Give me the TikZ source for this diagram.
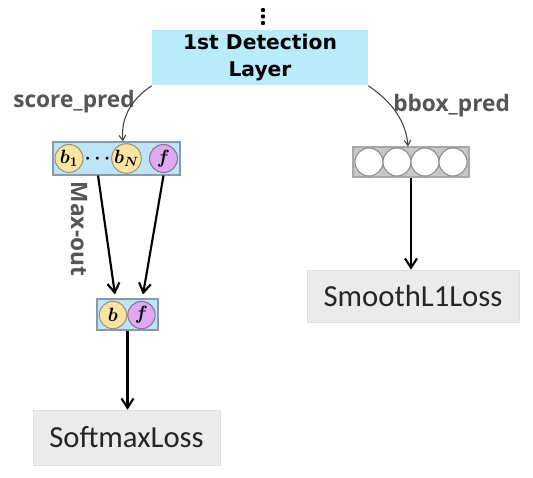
\documentclass[tikz,border=0pt]{standalone}
\usepackage{fontspec}
\usepackage{bm}
\usetikzlibrary{arrows.meta,calc}
\newfontfamily\dejab{DejaVu Sans}
\newfontfamily\carl{Carlito}
\newfontfamily\opens{Open Sans}
\definecolor{detfill}{HTML}{B9EBFB}
\definecolor{scorefill}{HTML}{BEE5F5}
\definecolor{scoreline}{HTML}{8A9AA8}
\definecolor{yel}{HTML}{FBE3A2}
\definecolor{yelline}{HTML}{9B9580}
\definecolor{pur}{HTML}{DFA9F2}
\definecolor{purline}{HTML}{8B7396}
\definecolor{bbfill}{HTML}{C7C7C7}
\definecolor{bbline}{HTML}{A8A8A8}
\definecolor{circline}{HTML}{8C8C8C}
\definecolor{lossfill}{HTML}{EBEBEB}
\definecolor{lossline}{HTML}{E0E0E0}
\definecolor{labgray}{HTML}{555555}
\definecolor{curvecol}{HTML}{404040}
\begin{document}
\begin{tikzpicture}[x=0.75pt,y=-0.75pt,
  lossbox/.style={draw=lossline,fill=lossfill,inner sep=0pt,font=\carl\fontsize{23}{24}\selectfont,text=black!85},
  lab/.style={font=\opens\bfseries\fontsize{17}{18}\selectfont,text=labgray,inner sep=0pt},
  ycirc/.style={circle,draw=yelline,fill=yel,line width=0.8pt,minimum size=21pt,inner sep=0pt,font=\fontsize{14}{14}\selectfont},
  pcirc/.style={circle,draw=purline,fill=pur,line width=0.8pt,minimum size=21pt,inner sep=0pt,font=\fontsize{14}{14}\selectfont},
  wcirc/.style={circle,draw=circline,fill=white,line width=0.8pt,minimum size=21pt,inner sep=0pt},
  thinarrow/.style={draw=curvecol,line width=0.8pt,-{Straight Barb[length=4pt,width=5pt]}},
  thickarrow/.style={draw=black,line width=1.6pt,-{Straight Barb[length=7pt,width=9pt,line width=1.6pt]}}
]
\useasboundingbox (0,0) rectangle (533,478);

% dots above
\fill (263,10) circle (2.2);
\fill (263,16.5) circle (2.2);
\fill (263,23) circle (2.2);

% detection layer
\node[fill=detfill,minimum width=162pt,minimum height=41.5pt,inner sep=0pt,
      font=\dejab\bfseries\fontsize{15.2}{20}\selectfont,align=center] (det) at (260,57.8) {1st Detection\\Layer};

% labels
\node[lab,anchor=base west] (scorelab) at (13,108) {score\_pred};
\node[lab,anchor=base west] (bboxlab) at (393,112) {bbox\_pred};

% score box
\node[draw=scoreline,fill=scorefill,line width=0.8pt,minimum width=95.25pt,minimum height=24.75pt,inner sep=0pt] (score) at (116.5,158.5) {};
\node[ycirc] (b1) at (69,158.5) {$\bm{b_1}$};
\node[inner sep=0pt,font=\fontsize{14}{14}\selectfont] (cdots) at (97.5,158.5) {$\bm{\cdots}$};
\node[ycirc] (bN) at (126.5,158.5) {$\bm{b_N}$};
\node[pcirc] (f1) at (163.5,158.5) {$\bm{f}$};

% bbox box
\node[draw=bbline,fill=bbfill,line width=0.8pt,minimum width=87pt,minimum height=22.5pt,inner sep=0pt] (bbox) at (411,162) {};
\node[wcirc] (c1) at (369,162) {};
\node[wcirc] (c2) at (397,162) {};
\node[wcirc] (c3) at (425,162) {};
\node[wcirc] (c4) at (453,162) {};

% max-out label
\node[lab,rotate=-90] (maxout) at (79,229) {Max-out};

% bf box
\node[draw=scoreline,fill=scorefill,line width=0.8pt,minimum width=45.75pt,minimum height=23.25pt,inner sep=0pt] (bf) at (127.5,314.5) {};
\node[ycirc,minimum size=20.5pt] (b2) at (113,315) {$\bm{b}$};
\node[pcirc,minimum size=20.5pt] (f2) at (141.5,315) {$\bm{f}$};

% loss boxes
\node[lossbox,minimum width=140.5pt,minimum height=41.25pt] (soft) at (126.5,437.5) {SoftmaxLoss};
\node[lossbox,minimum width=159pt,minimum height=39.5pt] (smooth) at (413,296.3) {SmoothL1Loss};

% connectors
\draw[thinarrow] (det.south west) .. controls +(-24,16) and +(-2,-20) .. ($(score.north)+(6.5,0)$);
\draw[thinarrow] (det.south east) .. controls +(24,16) and +(-2,-25) .. ($(bbox.north)+(-3,0)$);
\draw[thickarrow] ($(score.south)+(-18.5,0)$) -- ($(bf.north)+(-12.5,-4)$);
\draw[thickarrow] ($(score.south)+(47,0)$) -- ($(bf.north)+(15.5,-4)$);
\draw[thickarrow] (bf.south) -- (bf.south |- soft.north);
\draw[thickarrow] (bbox.south) -- (bbox.south |- smooth.north);
\end{tikzpicture}
\end{document}
